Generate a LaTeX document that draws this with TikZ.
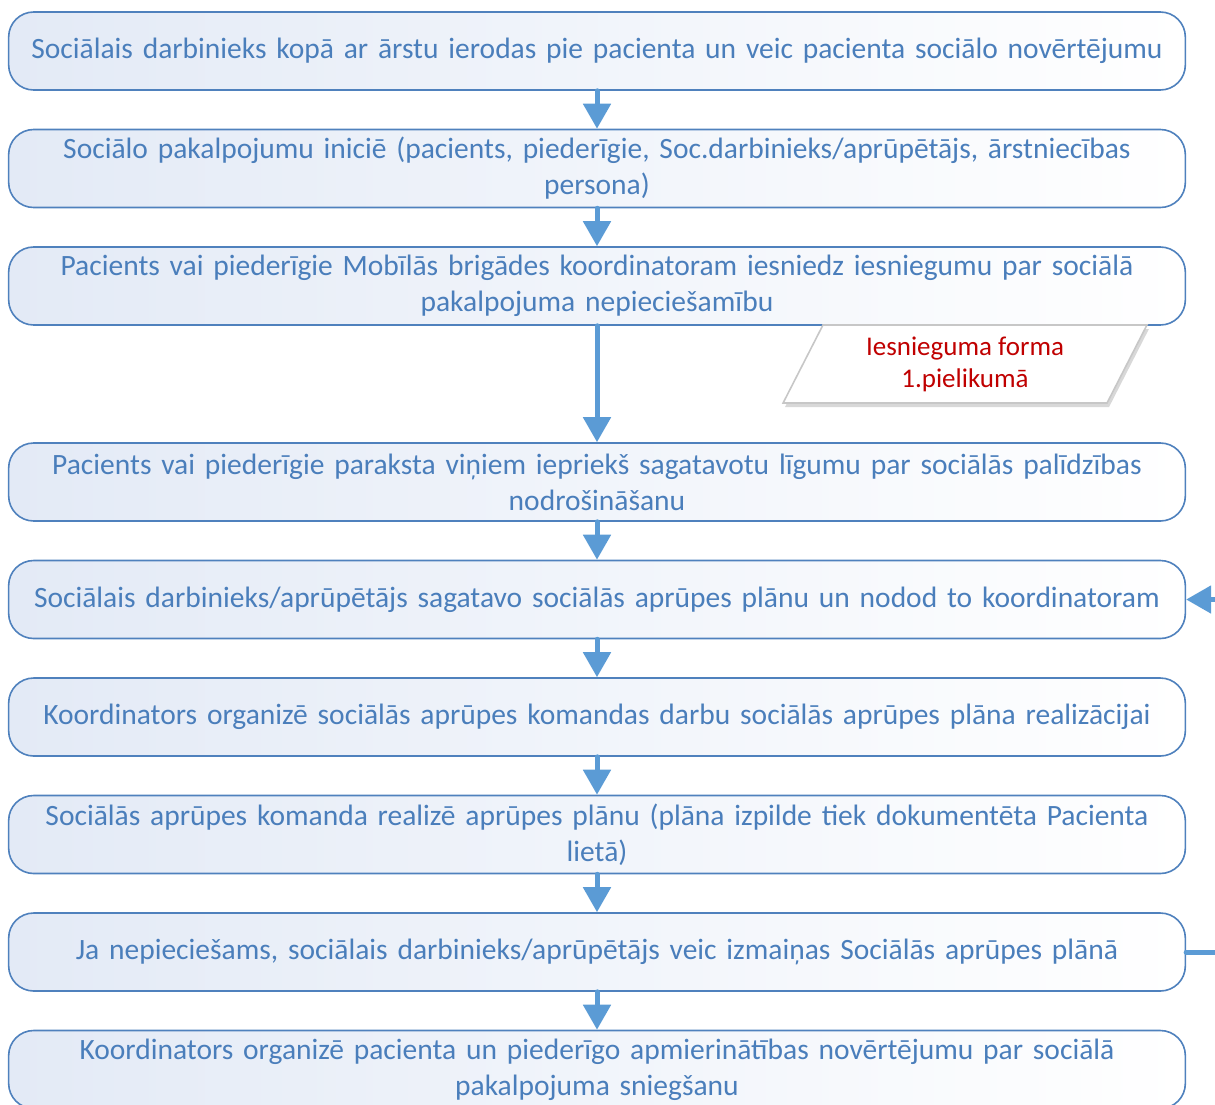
\documentclass[tikz,border=0pt]{standalone}
\usepackage{fontspec}
\setmainfont{Carlito}
\usetikzlibrary{arrows.meta,shapes.geometric,shadows}

\definecolor{boxline}{HTML}{4F81BD}
\definecolor{boxtext}{HTML}{4A7EBB}
\definecolor{boxshade}{HTML}{E3EAF6}
\definecolor{flowblue}{HTML}{5B9BD5}
\definecolor{notered}{HTML}{C00000}

\begin{document}
\begin{tikzpicture}[x=1pt,y=-1pt,>={Triangle[width=27pt,length=25pt]},node distance=117.5pt,
    step box/.style={rectangle,rounded corners=25pt,draw=boxline,line width=1.6pt,
      left color=boxshade,right color=white,minimum width=1176pt,minimum height=78pt,
      text width=1170pt,align=center,text=boxtext,font=\fontsize{29.5}{36}\selectfont},
    note box/.style={trapezium,trapezium left angle=65,trapezium right angle=115,
      trapezium stretches=true,draw=black!22,line width=1.6pt,fill=white,
      minimum width=364pt,minimum height=78pt,align=center,text=notered,
      font=\fontsize{27}{32}\selectfont,
      drop shadow={shadow xshift=2pt,shadow yshift=-4pt,fill=black!30}}]

\useasboundingbox (0,0) rectangle (1215,1104);

\node[step box] (1) at (597,51) {Sociālais darbinieks kopā ar ārstu ierodas pie pacienta un veic pacienta sociālo novērtējumu};
\node[step box] (2) [below of=1] {Sociālo pakalpojumu iniciē (pacients, piederīgie, Soc.darbinieks/aprūpētājs, ārstniecības\\persona)};
\node[step box] (3) [below of=2] {Pacients vai piederīgie Mobīlās brigādes koordinatoram iesniedz iesniegumu par sociālā\\pakalpojuma nepieciešamību};
\node[step box] (4) [node distance=196pt,below of=3] {Pacients vai piederīgie paraksta viņiem iepriekš sagatavotu līgumu par sociālās palīdzības\\nodrošināšanu};
\node[step box] (5) [below of=4] {Sociālais darbinieks/aprūpētājs sagatavo sociālās aprūpes plānu un nodod to koordinatoram};
\node[step box] (6) [below of=5] {Koordinators organizē sociālās aprūpes komandas darbu sociālās aprūpes plāna realizācijai};
\node[step box] (7) [below of=6] {Sociālās aprūpes komanda realizē aprūpes plānu (plāna izpilde tiek dokumentēta Pacienta\\lietā)};
\node[step box] (8) [below of=7] {Ja nepieciešams, sociālais darbinieks/aprūpētājs veic izmaiņas Sociālās aprūpes plānā};
\node[step box] (9) [below of=8] {Koordinators organizē pacienta un piederīgo apmierinātības novērtējumu par sociālā\\pakalpojuma sniegšanu};

\node[note box] (form) at (965,364) {Iesnieguma forma\\1.pielikumā};

\path[->,color=flowblue,line width=5pt,line cap=round]
(1) edge (2)
(2) edge (3)
(3) edge (4)
(4) edge (5)
(5) edge (6)
(6) edge (7)
(7) edge (8)
(8) edge (9)
;

\draw[->,color=flowblue,line width=5pt,line cap=round] (8.east) -- ++(45,0) |- (5.east);

\end{tikzpicture}
\end{document}
